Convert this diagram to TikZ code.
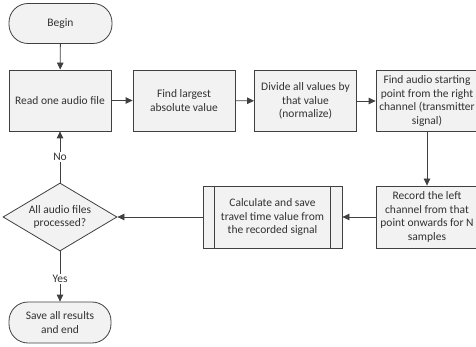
\documentclass[tikz,border=0pt]{standalone}
\usepackage{fontspec}
\setmainfont{Carlito}
\usepackage{tikz}
\usetikzlibrary{positioning,calc}
\usetikzlibrary{arrows.meta,shapes.geometric}
\definecolor{FlowLine}{RGB}{64,64,64}
\definecolor{FlowFill}{RGB}{242,242,242}
\definecolor{FlowText}{RGB}{50,50,50}
\tikzset{
  base/.style={draw=FlowLine,fill=FlowFill,text=FlowText,line width=0.8pt,
    font=\fontsize{11.5}{13.8}\selectfont,align=center,inner sep=1pt},
  terminal/.style={base,rounded corners=19pt,minimum width=103pt,minimum height=40pt},
  proc/.style={base,minimum width=102pt,minimum height=61pt},
  predef/.style={base,minimum width=139pt,minimum height=62pt},
  decide/.style={base,diamond,aspect=1.68,inner sep=0pt,minimum width=114pt,minimum height=68pt},
  flow/.style={draw=FlowLine,line width=0.8pt,-{Triangle[length=7pt,width=6.5pt]}},
  tag/.style={fill=white,text=FlowText,inner sep=1pt,font=\fontsize{11.5}{13}\selectfont},
}

\begin{document}
\begin{tikzpicture}[x=1pt,y=-1pt]
\useasboundingbox (0,0) rectangle (476,347);
\node[terminal] (begin) at (60.5,23.5) {Begin};
\node[proc] (read) at (60,100.5) {Read one audio file};
\node[proc] (largest) at (184,100.5) {Find largest\\absolute value};
\node[proc] (divide) at (305.5,101) {Divide all values by\\that value\\(normalize)};
\node[proc] (start) at (427,101) {Find audio starting\\point from the right\\channel (transmitter\\signal)};
\node[proc,minimum height=62pt] (record) at (427,217) {Record the left\\channel from that\\point onwards for N\\samples};
\node[predef] (calc) at (272.5,217) {Calculate and save\\travel time value from\\the recorded signal};
\draw[FlowLine,line width=0.8pt] ($(calc.north west)+(12,0)$) -- ($(calc.south west)+(12,0)$);
\draw[FlowLine,line width=0.8pt] ($(calc.north east)+(-12,0)$) -- ($(calc.south east)+(-12,0)$);
\node[decide] (check) at (60,217) {All audio files\\processed?};
\node[terminal,minimum width=102pt,minimum height=41pt] (save) at (60,322.5) {Save all results\\and end};
\draw[flow] (begin) -- (read);
\draw[flow] (read) -- (largest);
\draw[flow] (largest) -- (divide);
\draw[flow] (divide) -- (start);
\draw[flow] (start) -- (record);
\draw[flow] (record) -- (calc);
\draw[flow] (calc) -- (check);
\draw[flow] (check) -- node[tag] {No} (read);
\draw[flow] (check) -- node[tag,pos=0.55] {Yes} (save);
\end{tikzpicture}
\end{document}
